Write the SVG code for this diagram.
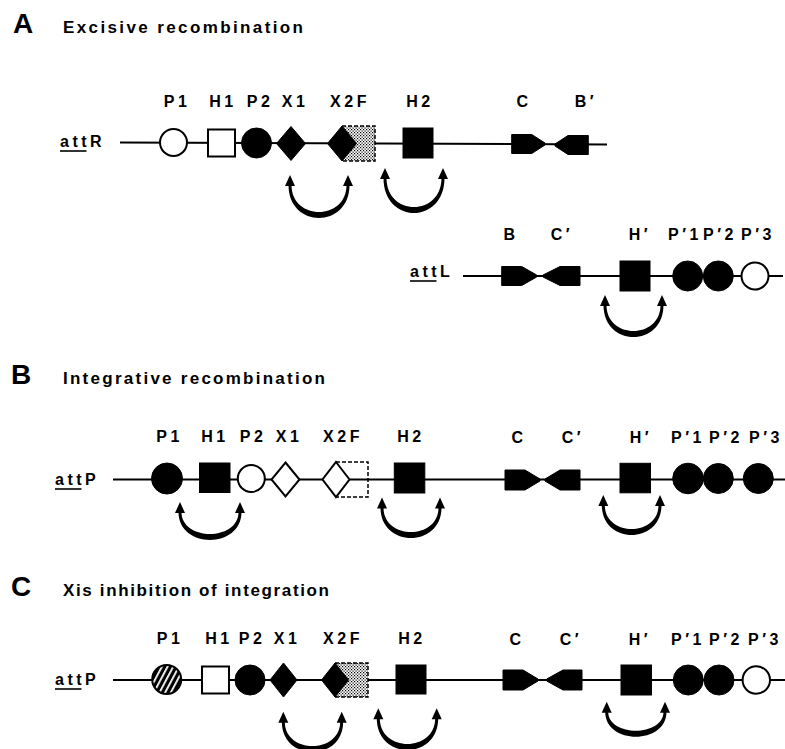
<svg xmlns="http://www.w3.org/2000/svg" width="785" height="749" viewBox="0 0 785 749">
<defs>
<pattern id="stip" width="3" height="3" patternUnits="userSpaceOnUse">
<rect width="3" height="3" fill="#fff"/>
<rect x="0" y="0" width="1.2" height="1.2" fill="#000"/>
<rect x="1.5" y="1.5" width="1.2" height="1.2" fill="#000"/>
</pattern>
<pattern id="hatch" width="5" height="5" patternUnits="userSpaceOnUse" patternTransform="rotate(28)">
<rect width="5" height="5" fill="#000"/>
<rect x="0" y="0" width="1.8" height="5" fill="#fff"/>
</pattern>
</defs>
<style>
.bb{stroke:#000;stroke-width:2;fill:none}
.op{fill:#fff;stroke:#000;stroke-width:2}
.fl{fill:#000;stroke:#000;stroke-width:1}
.dash{fill:none;stroke:#000;stroke-width:1.5;stroke-dasharray:4 2}
.arc{fill:#000}
.ul{stroke:#000;stroke-width:1.6}
text{font-family:"Liberation Sans",Arial,Helvetica,sans-serif;font-weight:bold;fill:#000}
.big{font-size:28px}
.ttl{font-size:17px}
.lbl{font-size:16px;letter-spacing:3.5px;text-anchor:middle}
.att{font-size:16px;letter-spacing:3.5px}
</style>
<rect width="785" height="749" fill="#fff"/>

<!-- Titles -->
<g id="titles">
<text class="big" x="13" y="33">A</text>
<text class="ttl" x="63" y="33" textLength="240" lengthAdjust="spacing">Excisive recombination</text>
<text class="big" x="11" y="384">B</text>
<text class="ttl" x="63" y="384" textLength="262" lengthAdjust="spacing">Integrative recombination</text>
<text class="big" x="11" y="596">C</text>
<text class="ttl" x="63" y="596" textLength="266" lengthAdjust="spacing">Xis inhibition of integration</text>
</g>

<!-- Connectors: backbones and bending arcs -->
<g id="connectors">
<line class="bb" x1="120" y1="142.5" x2="607" y2="144.5"/>
<line class="bb" x1="463" y1="276" x2="783" y2="276"/>
<line class="bb" x1="113" y1="479.5" x2="785" y2="479.5"/>
<line class="bb" x1="113" y1="680" x2="785" y2="680"/>

<path class="arc" d="M288.5,185 C288.5,229 349.5,229 349.5,185 L346.5,185 C346.5,221 291.5,221 291.5,185 Z"/>
<polygon class="arc" points="290,175 285,186 295,186"/><polygon class="arc" points="348,175 343,186 353,186"/>
<path class="arc" d="M383.5,178 C383.5,224.7 444.5,224.7 444.5,178 L441.5,178 C441.5,216.7 386.5,216.7 386.5,178 Z"/>
<polygon class="arc" points="385,168 380,179 390,179"/><polygon class="arc" points="443,168 438,179 448,179"/>
<path class="arc" d="M603.5,305 C603.5,347.7 663.5,347.7 663.5,305 L660.5,305 C660.5,339.7 606.5,339.7 606.5,305 Z"/>
<polygon class="arc" points="605,295 600,306 610,306"/><polygon class="arc" points="662,295 657,306 667,306"/>

<path class="arc" d="M178.5,512 C178.5,549.3 241.5,549.3 241.5,512 L238.5,512 C238.5,541.3 181.5,541.3 181.5,512 Z"/>
<polygon class="arc" points="180,502 175,513 185,513"/><polygon class="arc" points="240,502 235,513 245,513"/>
<path class="arc" d="M380.5,507.5 C380.5,548.2 441.5,548.2 441.5,507.5 L438.5,507.5 C438.5,540.2 383.5,540.2 383.5,507.5 Z"/>
<polygon class="arc" points="382,497.5 377,508.5 387,508.5"/><polygon class="arc" points="440,497.5 435,508.5 445,508.5"/>
<path class="arc" d="M601.8,505 C601.8,545 661.5,545 661.5,505 L658.5,505 C658.5,537 604.8,537 604.8,505 Z"/>
<polygon class="arc" points="603.3,495 598.3,506 608.3,506"/><polygon class="arc" points="660,495 655,506 665,506"/>

<path class="arc" d="M281.8,721.7 C281.8,762.1 343.2,762.1 343.2,721.7 L340.2,721.7 C340.2,754.1 284.8,754.1 284.8,721.7 Z"/>
<polygon class="arc" points="283.3,711.7 278.3,722.7 288.3,722.7"/><polygon class="arc" points="341.7,711.7 336.7,722.7 346.7,722.7"/>
<path class="arc" d="M376.8,718.3 C376.8,760.6 438.2,760.6 438.2,718.3 L435.2,718.3 C435.2,752.6 379.8,752.6 379.8,718.3 Z"/>
<polygon class="arc" points="378.3,708.3 373.3,719.3 383.3,719.3"/><polygon class="arc" points="436.7,708.3 431.7,719.3 441.7,719.3"/>
<path class="arc" d="M605.2,711.7 C605.2,745 666.5,745 666.5,711.7 L663.5,711.7 C663.5,737 608.2,737 608.2,711.7 Z"/>
<polygon class="arc" points="606.7,701.7 601.7,712.7 611.7,712.7"/><polygon class="arc" points="665,701.7 660,712.7 670,712.7"/>
</g>

<!-- A: attR -->
<g id="attR">
<g id="attR-name"><text class="att" x="60" y="147">attR</text><line class="ul" x1="60" y1="151" x2="86.5" y2="151"/></g>
<g id="A-P1"><circle class="op" cx="173.5" cy="142.5" r="13.5"/><text class="lbl" x="177" y="107">P1</text></g>
<g id="A-H1"><rect class="op" x="208" y="129.5" width="27" height="27"/><text class="lbl" x="223" y="107">H1</text></g>
<g id="A-P2"><circle class="fl" cx="256.5" cy="143" r="15"/><text class="lbl" x="260" y="107">P2</text></g>
<g id="A-X1"><polygon class="fl" points="291,126.5 305.5,143.5 291,160.5 276.5,143.5"/><text class="lbl" x="295" y="107">X1</text></g>
<g id="A-X2F"><rect x="342" y="126" width="33" height="35" fill="url(#stip)"/><path class="dash" d="M342,126 H375 V161 H342"/><polygon class="fl" points="342,126 356.5,143.5 342,161 327.5,143.5"/><text class="lbl" x="350" y="107">X2F</text></g>
<g id="A-H2"><rect class="fl" x="403" y="128" width="30" height="30"/><text class="lbl" x="420" y="107">H2</text></g>
<g id="A-C"><polygon class="fl" points="511.7,134.5 531.7,134.5 545,143 545,145 531.7,153.5 511.7,153.5"/><text class="lbl" x="524" y="107">C</text></g>
<g id="A-Bp"><polygon class="fl" points="588.3,135.5 568,135.5 555,144 555,146 568,154.5 588.3,154.5"/><text class="lbl" x="586" y="107">B′</text></g>
</g>

<!-- A: attL -->
<g id="attL">
<g id="attL-name"><text class="att" x="410" y="277">attL</text><line class="ul" x1="410" y1="281" x2="436.5" y2="281"/></g>
<g id="L-B"><polygon class="fl" points="501.7,266.5 521.7,266.5 536.7,275 536.7,277 521.7,285.5 501.7,285.5"/><text class="lbl" x="511" y="240">B</text></g>
<g id="L-Cp"><polygon class="fl" points="580,266.5 560,266.5 543,275 543,277 560,285.5 580,285.5"/><text class="lbl" x="562" y="240">C′</text></g>
<g id="L-Hp"><rect class="fl" x="620" y="261" width="30" height="30"/><text class="lbl" x="640" y="240">H′</text></g>
<g id="L-P1p"><circle class="fl" cx="687.7" cy="276" r="15"/><text class="lbl" x="685" y="240">P′1</text></g>
<g id="L-P2p"><circle class="fl" cx="718.3" cy="276" r="15"/><text class="lbl" x="720" y="240">P′2</text></g>
<g id="L-P3p"><circle class="op" cx="755" cy="276" r="13.5"/><text class="lbl" x="758" y="240">P′3</text></g>
</g>

<!-- B: attP -->
<g id="attP-B">
<g id="B-name"><text class="att" x="55" y="485">attP</text><line class="ul" x1="55" y1="489" x2="81.5" y2="489"/></g>
<g id="B-P1"><circle class="fl" cx="167" cy="478.5" r="15.5"/><text class="lbl" x="169.5" y="442">P1</text></g>
<g id="B-H1"><rect class="fl" x="199.5" y="463" width="30.5" height="29.5"/><text class="lbl" x="215" y="442">H1</text></g>
<g id="B-P2"><circle class="op" cx="251.3" cy="478.5" r="13.5"/><text class="lbl" x="253" y="442">P2</text></g>
<g id="B-X1"><polygon class="op" points="285.5,462.5 299.5,479.5 285.5,496.5 271.5,479.5"/><text class="lbl" x="289" y="442">X1</text></g>
<g id="B-X2F"><path class="dash" d="M336,462 H368 V497 H336"/><polygon class="op" points="336,462 349.5,479.5 336,497 322.5,479.5"/><text class="lbl" x="343" y="442">X2F</text></g>
<g id="B-H2"><rect class="fl" x="394.3" y="463" width="30.5" height="30"/><text class="lbl" x="411" y="442">H2</text></g>
<g id="B-C"><polygon class="fl" points="505,470 525,470 540,479 540,481 525,490 505,490"/><text class="lbl" x="519" y="443">C</text></g>
<g id="B-Cp"><polygon class="fl" points="580,470 560,470 545,479 545,481 560,490 580,490"/><text class="lbl" x="573" y="443">C′</text></g>
<g id="B-Hp"><rect class="fl" x="620" y="463.3" width="30.5" height="29.5"/><text class="lbl" x="641" y="443">H′</text></g>
<g id="B-P1p"><circle class="fl" cx="688" cy="478.5" r="15.3"/><text class="lbl" x="688" y="443">P′1</text></g>
<g id="B-P2p"><circle class="fl" cx="718.3" cy="478.5" r="15"/><text class="lbl" x="726" y="443">P′2</text></g>
<g id="B-P3p"><circle class="fl" cx="758.3" cy="478.5" r="15"/><text class="lbl" x="766" y="443">P′3</text></g>
</g>

<!-- C: attP with Xis -->
<g id="attP-C">
<g id="C-name"><text class="att" x="55" y="685">attP</text><line class="ul" x1="55" y1="689" x2="81.5" y2="689"/></g>
<g id="C-P1"><circle cx="166.7" cy="679.5" r="14.5" fill="url(#hatch)" stroke="#000" stroke-width="2"/><text class="lbl" x="170" y="644">P1</text></g>
<g id="C-H1"><rect class="op" x="202" y="666.5" width="27" height="27"/><text class="lbl" x="219" y="644">H1</text></g>
<g id="C-P2"><circle class="fl" cx="250" cy="680" r="15"/><text class="lbl" x="252" y="644">P2</text></g>
<g id="C-X1"><polygon class="fl" points="283.5,663 297,680 283.5,697 270,680"/><text class="lbl" x="287" y="644">X1</text></g>
<g id="C-X2F"><rect x="335" y="663" width="33" height="34" fill="url(#stip)"/><path class="dash" d="M335,663 H368 V697 H335"/><polygon class="fl" points="335,663 348.5,680 335,697 321.5,680"/><text class="lbl" x="343" y="644">X2F</text></g>
<g id="C-H2"><rect class="fl" x="396" y="665" width="30" height="29"/><text class="lbl" x="412" y="644">H2</text></g>
<g id="C-C"><polygon class="fl" points="503,670 523,670 538,679 538,681 523,690 503,690"/><text class="lbl" x="517" y="645">C</text></g>
<g id="C-Cp"><polygon class="fl" points="582,670 563,670 546.7,679 546.7,681 563,690 582,690"/><text class="lbl" x="571" y="645">C′</text></g>
<g id="C-Hp"><rect class="fl" x="621" y="665" width="30.5" height="30"/><text class="lbl" x="640" y="645">H′</text></g>
<g id="C-P1p"><circle class="fl" cx="688.3" cy="680" r="15"/><text class="lbl" x="688" y="645">P′1</text></g>
<g id="C-P2p"><circle class="fl" cx="719" cy="680" r="15"/><text class="lbl" x="726" y="645">P′2</text></g>
<g id="C-P3p"><circle class="op" cx="756.3" cy="680" r="13.7"/><text class="lbl" x="765" y="645">P′3</text></g>
</g>
</svg>
